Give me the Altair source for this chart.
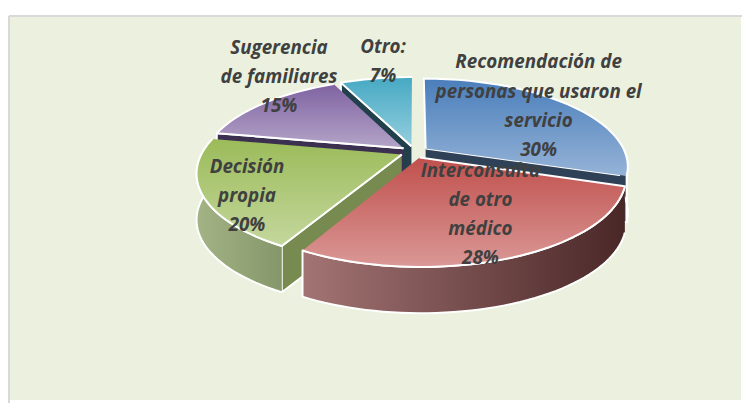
import math
import altair as alt
import pandas as pd

# ---- data ----
categories = [
    "Recomendación de\npersonas que usaron el\nservicio",
    "Interconsulta\nde otro\nmédico",
    "Decisión\npropia",
    "Sugerencia\nde familiares",
    "Otro:",
]
values = [30, 28, 20, 15, 7]

# ---- styling ----
top_grad = [("#4A7EBB", "#95B3D7"), ("#C0504D", "#DA9896"), ("#9BBB59", "#C4D79D"),
            ("#7F63A1", "#B4A4C8"), ("#46A9C3", "#94CEDE")]
wall_grad = [("#2F4156", "#2F4156"), ("#A37474", "#4A2727"), ("#A3B385", "#85976A"),
             ("#3B3050", "#3B3050"), ("#1F3F4A", "#1F3F4A")]
face_col = ["#2F4156", "#5A3030", "#778A50", "#3B3050", "#21404C"]

# pie geometry (pixel layout of the 3D pie)
CX, CY = 419, 151
A, B, P = 202, 86.4, 0.2
EXPL, DEPTH = 0.07, 47
W, H = 742, 395
PAD_TOP = 5
LINE_H = 29.5


def proj(u, v, dz=0.0):
    d = 1 + P * v
    return CX + A * u / d, CY - B * v / d + dz


total = sum(values)
rows = []
labels = []
fid = 0
start = 0.0
tops, walls, faces = [], [], []
for k, (cat, val) in enumerate(zip(categories, values)):
    t0 = start
    t1 = start + 360.0 * val / total
    start = t1
    m = math.radians((t0 + t1) / 2)
    du, dv = EXPL * math.sin(m), EXPL * math.cos(m)

    def rim(t, dz=0.0):
        r = math.radians(t)
        return proj(math.sin(r) + du, math.cos(r) + dv, dz)

    n = max(8, int((t1 - t0) / 2))
    arc = [t0 + (t1 - t0) * i / n for i in range(n + 1)]

    # top face
    pts = [proj(du, dv)] + [rim(t) for t in arc]
    tops.append((fid, k))
    for i, (x, y) in enumerate(pts):
        rows.append({"face": fid, "i": i, "x": x, "y": y})
    fid += 1

    # radial faces that face the viewer
    for t, vis in ((t0, math.sin(math.radians(t0)) < -1e-6), (t1, math.sin(math.radians(t1)) > 1e-6)):
        if vis:
            c0 = proj(du, dv)
            c1 = proj(du, dv, DEPTH)
            r0 = rim(t)
            r1 = rim(t, DEPTH)
            depth_key = 0.5 * math.cos(math.radians(t)) + dv
            faces.append((fid, k, depth_key))
            for i, (x, y) in enumerate([c0, r0, r1, c1]):
                rows.append({"face": fid, "i": i, "x": x, "y": y})
            fid += 1

    # outer wall (near half only)
    a0, a1 = max(t0, 86), min(t1, 274)
    if a1 > a0:
        nn = max(6, int((a1 - a0) / 2))
        ws = [a0 + (a1 - a0) * i / nn for i in range(nn + 1)]
        pts = [rim(t) for t in ws] + [rim(t, DEPTH) for t in reversed(ws)]
        walls.append((fid, k))
        for i, (x, y) in enumerate(pts):
            rows.append({"face": fid, "i": i, "x": x, "y": y})
        fid += 1

    labels.append({"label": cat + "\n" + f"{val}%", "k": k, "m": m, "du": du, "dv": dv,
                   "n": cat.count("\n") + 2})

# label anchors: radial factor along the mid angle plus nudge (Excel "best fit" placement)
lab_rf = [0.74, 0.62, 0.8, 1.15, 1.2]
lab_nudge = [(5, -9), (8, 0), (2, 10), (32, -20), (13, -6)]
for L in labels:
    k = L["k"]
    x, y = proj(lab_rf[k] * math.sin(L["m"]) + L["du"], lab_rf[k] * math.cos(L["m"]) + L["dv"])
    L["x"] = x + lab_nudge[k][0]
    # block centred on the anchor: first line sits (n-1)/2 lines above
    L["y"] = y + lab_nudge[k][1] - (L["n"] - 1) / 2 * LINE_H

poly = pd.DataFrame(rows)
lab = pd.DataFrame(labels)

xs = alt.Scale(domain=[8, 8 + W], nice=False, zero=False)
ys = alt.Scale(domain=[8 + H, 8 + PAD_TOP], nice=False, zero=False)

base = alt.Chart(poly)


def grad(c0, c1, horizontal=False):
    return alt.Gradient(
        gradient="linear",
        stops=[alt.GradientStop(color=c0, offset=0), alt.GradientStop(color=c1, offset=1)],
        x1=0, y1=0, x2=1 if horizontal else 0, y2=0 if horizontal else 1,
    )


def face_layer(f, fill):
    return base.transform_filter(alt.datum.face == f).mark_line(
        filled=True, fill=fill, stroke="white", strokeWidth=2, strokeJoin="round",
        interpolate="linear",
    ).encode(
        x=alt.X("x:Q", scale=xs, axis=None),
        y=alt.Y("y:Q", scale=ys, axis=None),
        order="i:Q",
    )


layers = []
for f, k, _ in sorted(faces, key=lambda t: -t[2]):
    layers.append(face_layer(f, face_col[k]))
for f, k in walls:
    layers.append(face_layer(f, grad(wall_grad[k][0], wall_grad[k][1], horizontal=True)))
for f, k in tops:
    layers.append(face_layer(f, grad(top_grad[k][0], top_grad[k][1])))

text = alt.Chart(lab).mark_text(
    font="Open Sans", fontStyle="italic", fontWeight="bold", fontSize=19,
    color="#404040", lineBreak="\n", lineHeight=LINE_H, align="center", baseline="middle",
).encode(
    x=alt.X("x:Q", scale=xs, axis=None),
    y=alt.Y("y:Q", scale=ys, axis=None),
    text="label:N",
)
layers.append(text)

border_top = alt.Chart(lab).mark_rule(color="#D9D9D9", strokeWidth=2).encode(
    x=alt.value(0), x2=alt.value(W), y=alt.value(0))
border_left = alt.Chart(lab).mark_rule(color="#D9D9D9", strokeWidth=2).encode(
    x=alt.value(0), y=alt.value(0), y2=alt.value(H))
layers += [border_top, border_left]

chart = alt.layer(*layers).properties(
    width=W, height=H,
    autosize=alt.AutoSizeParams(type="fit", contains="padding"),
    padding={"left": 0, "top": PAD_TOP, "right": 0, "bottom": 0},
    background="white",
).configure_view(fill="#EBF1DE", stroke=None)

chart.save("out.html", embed_options={"renderer": "svg", "actions": False})
